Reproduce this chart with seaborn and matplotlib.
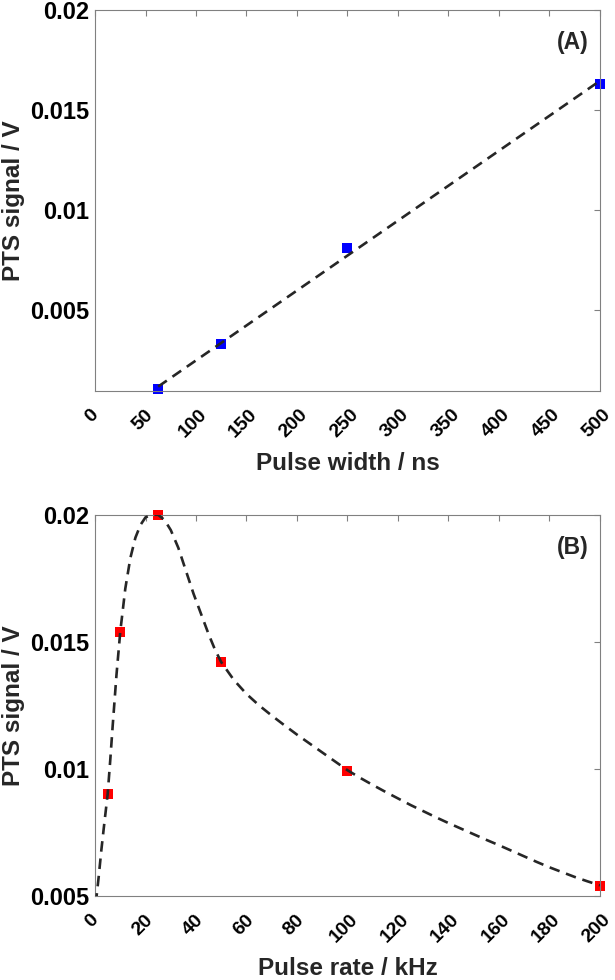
import matplotlib
matplotlib.use('Agg')
import matplotlib.pyplot as plt
import matplotlib.transforms as mtransforms
import seaborn as sns
import pandas as pd

# (A) signal vs pulse width
width_ns = [62.5, 125, 250, 500]
width_signal = [0.00105, 0.0033, 0.0081, 0.0163]
# dashed fit line at its two ends
width_fit_x = [62.5, 500]
width_fit_y = [0.00117, 0.01645]

# (B) signal vs pulse rate
rate_khz = [5, 10, 25, 50, 100, 200]
rate_signal = [0.0090, 0.0154, 0.0200, 0.0142, 0.0099, 0.0054]
# dashed fit curve
rate_fit_x = [0.3, 1.5, 2.5, 3.5, 5, 6, 7, 8.5, 10, 12, 14, 16, 18, 20, 22.5,
              25, 27.5, 30, 33, 36, 39, 42, 45, 47.5, 50, 55, 60, 65, 70, 75,
              80, 85, 90, 95, 100, 105, 110, 115, 120, 125, 130, 135, 140, 145,
              150, 155, 160, 165, 170, 175, 180, 185, 190, 195, 200]
rate_fit_y = [0.0047, 0.0058, 0.0068, 0.0077, 0.0090, 0.0103, 0.0117, 0.0137,
              0.0154, 0.0171, 0.0183, 0.0191, 0.0196, 0.0199, 0.0200, 0.0200,
              0.0198, 0.0194, 0.0187, 0.0178, 0.0169, 0.0161, 0.0153, 0.0147,
              0.0142, 0.0135, 0.01295, 0.0125, 0.0121, 0.01172, 0.01135,
              0.01100, 0.01065, 0.01030, 0.00995, 0.00965, 0.00937, 0.00910,
              0.00884, 0.00858, 0.00834, 0.00810, 0.00787, 0.00765, 0.00743,
              0.00721, 0.00700, 0.00678, 0.00656, 0.00634, 0.00613, 0.00594,
              0.00575, 0.00558, 0.00542]

y_ticks = [0.005, 0.01, 0.015, 0.02]
y_tick_labels = ['0.005', '0.01', '0.015', '0.02']

sns.set_style('white')
plt.rcParams['font.family'] = ['Liberation Sans', 'DejaVu Sans']
plt.rcParams['font.weight'] = 'bold'
plt.rcParams['axes.labelweight'] = 'bold'

fig = plt.figure(figsize=(6.15, 9.8), dpi=100)
ax_a = fig.add_axes([0.1545, 0.601, 0.821, 0.389])
ax_b = fig.add_axes([0.1545, 0.0857, 0.821, 0.389])
shift = mtransforms.ScaledTranslation(-3 / 100, 0, fig.dpi_scale_trans)


def draw_panel(ax, px, py, fx, fy, color, xticks, ylim, xlabel, tag):
    pts = pd.DataFrame({'x': px, 'y': py})
    fit = pd.DataFrame({'x': fx, 'y': fy})
    sns.scatterplot(data=pts, x='x', y='y', ax=ax, marker='s', s=62,
                    color=color, edgecolor=color, linewidth=0, zorder=2,
                    clip_on=False)
    sns.lineplot(data=fit, x='x', y='y', ax=ax, color='#262626', lw=1.9,
                 linestyle=(0, (4, 2.6)), zorder=3, sort=False)
    ax.set_xlim(xticks[0], xticks[-1])
    ax.set_ylim(*ylim)
    ax.set_xticks(xticks, labels=[str(t) for t in xticks], rotation=45)
    ax.set_yticks(y_ticks, labels=y_tick_labels)
    ax.tick_params(direction='in', length=4, width=0.8, color='#808080',
                   top=True, right=True, labelcolor='black')
    ax.tick_params(axis='x', pad=11, labelsize=14)
    ax.tick_params(axis='y', pad=4, labelsize=17)
    for lab in ax.get_xticklabels():
        lab.set_transform(lab.get_transform() + shift)
    for sp in ax.spines.values():
        sp.set_color('#808080')
        sp.set_linewidth(0.8)
    ax.set_xlabel(xlabel, fontsize=17.5, fontweight='bold', labelpad=8)
    ax.set_ylabel('PTS signal / V', fontsize=17.5, fontweight='bold', labelpad=4)
    ax.text(0.978, 0.945, tag, transform=ax.transAxes, ha='right', va='top',
            fontsize=16.5, fontweight='bold')


draw_panel(ax_a, width_ns, width_signal, width_fit_x, width_fit_y, '#0000ff',
           list(range(0, 501, 50)), (0.00095, 0.02), 'Pulse width / ns', '(A)')
draw_panel(ax_b, rate_khz, rate_signal, rate_fit_x, rate_fit_y, '#ff0000',
           list(range(0, 201, 20)), (0.005, 0.02), 'Pulse rate / kHz', '(B)')

fig.savefig('out.png', dpi=100)
